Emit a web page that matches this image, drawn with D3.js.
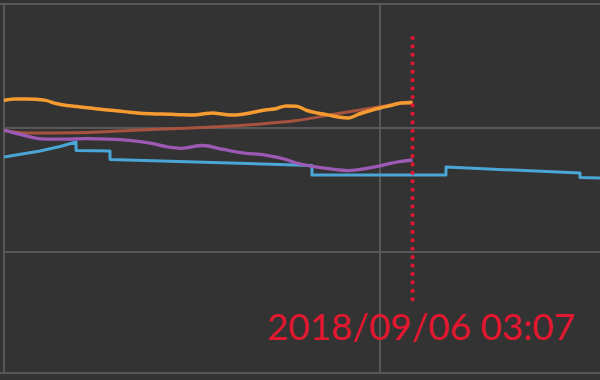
<!DOCTYPE html>
<html>
<head>
<meta charset="utf-8">
<script src="https://cdn.jsdelivr.net/npm/d3@7"></script>
<style>
  html, body { margin: 0; padding: 0; background: #333333; }
  svg { display: block; }
</style>
</head>
<body>
<svg id="chart" width="600" height="380"></svg>
<script>
// ---- data ----
const orangeTimes = [
  "2018-09-04 12:00","2018-09-04 13:00","2018-09-04 14:00","2018-09-04 15:00","2018-09-04 16:00",
  "2018-09-04 17:00","2018-09-04 18:00","2018-09-04 19:00","2018-09-04 20:00","2018-09-04 21:00",
  "2018-09-04 22:00","2018-09-04 23:00","2018-09-05 00:00","2018-09-05 01:00","2018-09-05 02:00",
  "2018-09-05 03:00","2018-09-05 04:00","2018-09-05 05:00","2018-09-05 06:00","2018-09-05 07:00",
  "2018-09-05 08:00","2018-09-05 09:00","2018-09-05 10:00","2018-09-05 11:00","2018-09-05 12:00",
  "2018-09-05 13:00","2018-09-05 14:00","2018-09-05 15:00","2018-09-05 16:00","2018-09-05 17:00",
  "2018-09-05 18:00","2018-09-05 19:00","2018-09-05 20:00","2018-09-05 21:00","2018-09-05 22:00",
  "2018-09-05 23:00","2018-09-06 00:00","2018-09-06 01:00","2018-09-06 02:00","2018-09-06 03:07"
];
const orangeValues = [
  222.2, 223.3, 223.4, 223.2, 222.3,
  219.7, 218.2, 217.3, 216.4, 215.3,
  214.5, 213.7, 212.7, 211.9, 211.5,
  211.3, 211.0, 210.6, 210.5, 211.3,
  212.1, 211.1, 210.5, 211.3, 212.9,
  214.5, 215.5, 217.8, 217.6, 214.1,
  212.1, 210.6, 208.9, 208.1, 211.3,
  213.9, 216.1, 218.1, 220.2, 220.3
];

const brownTimes = [
  "2018-09-04 12:00","2018-09-04 14:00","2018-09-04 17:00","2018-09-04 20:00","2018-09-05 00:00",
  "2018-09-05 04:00","2018-09-05 08:00","2018-09-05 12:00","2018-09-05 16:00","2018-09-05 20:00",
  "2018-09-06 00:00","2018-09-06 03:07"
];
const brownValues = [
  198.0, 196.0, 196.0, 196.4, 198.0,
  199.4, 200.8, 202.8, 206.0, 211.7,
  217.2, 221.4
];

const purpleTimes = [
  "2018-09-04 12:00","2018-09-04 13:00","2018-09-04 14:00","2018-09-04 15:00","2018-09-04 16:00",
  "2018-09-04 18:00","2018-09-04 20:00","2018-09-04 22:00","2018-09-05 00:00","2018-09-05 02:00",
  "2018-09-05 04:00","2018-09-05 05:00","2018-09-05 07:00","2018-09-05 09:00","2018-09-05 11:00",
  "2018-09-05 13:00","2018-09-05 15:00","2018-09-05 16:00","2018-09-05 18:00","2018-09-05 20:00",
  "2018-09-05 21:00","2018-09-05 22:00","2018-09-06 00:00","2018-09-06 01:00","2018-09-06 02:00",
  "2018-09-06 03:07"
];
const purpleValues = [
  198.4, 196.0, 193.9, 191.9, 191.1,
  191.1, 191.5, 191.1, 190.1, 187.9,
  184.3, 183.6, 185.9, 182.7, 179.8,
  178.2, 174.6, 171.8, 168.5, 166.3,
  165.7, 166.5, 169.4, 171.4, 173.0,
  174.2
];

const blueTimes = [
  "2018-09-04 12:00","2018-09-04 15:27","2018-09-04 17:22","2018-09-04 18:54","2018-09-04 18:54",
  "2018-09-04 22:09","2018-09-04 22:09","2018-09-05 17:29","2018-09-05 17:29","2018-09-06 06:19",
  "2018-09-06 06:19","2018-09-06 19:09","2018-09-06 19:09","2018-09-06 22:59"
];
const blueValues = [
  176.6, 181.5, 185.1, 188.7, 181.9,
  181.5, 174.6, 169.8, 162.1, 162.1,
  168.5, 163.7, 160.1, 159.4
];

const gridTimes = ["2018-09-04 12:00", "2018-09-06 00:00"];
const gridValues = [100, 200];
const markerTime = "2018-09-06 03:07";
const markerLabel = "2018/09/06 03:07";

// ---- drawing ----
const W = 600, H = 380;
const parse = d3.timeParse("%Y-%m-%d %H:%M");
const svg = d3.select("#chart");

svg.append("rect").attr("width", W).attr("height", H).attr("fill", "#333333");

const x = d3.scaleTime()
  .domain([parse("2018-09-04 12:00"), parse("2018-09-06 00:00")])
  .range([4, 380]);
const y = d3.scaleLinear().domain([0, 300]).range([376, 4]);

const frameBottom = 373;
const gridColor = "#585858";

// frame
svg.append("line").attr("x1", 0).attr("x2", W).attr("y1", y(300)).attr("y2", y(300))
  .attr("stroke", gridColor).attr("stroke-width", 2);
svg.append("line").attr("x1", 0).attr("x2", W).attr("y1", frameBottom).attr("y2", frameBottom)
  .attr("stroke", gridColor).attr("stroke-width", 2);

// grid
svg.append("g").selectAll("line").data(gridValues).join("line")
  .attr("x1", x(parse(gridTimes[0]))).attr("x2", W)
  .attr("y1", d => y(d)).attr("y2", d => y(d))
  .attr("stroke", gridColor).attr("stroke-width", 2);
svg.append("g").selectAll("line").data(gridTimes).join("line")
  .attr("x1", d => x(parse(d))).attr("x2", d => x(parse(d)))
  .attr("y1", y(300)).attr("y2", frameBottom)
  .attr("stroke", gridColor).attr("stroke-width", 2);

function series(times, values) {
  return times.map((t, i) => ({ t: parse(t), v: values[i] }));
}

const smooth = d3.line().x(d => x(d.t)).y(d => y(d.v)).curve(d3.curveMonotoneX);
const straight = d3.line().x(d => x(d.t)).y(d => y(d.v));

const lines = [
  { data: series(brownTimes, brownValues), color: "#a85240", gen: smooth, w: 3 },
  { data: series(blueTimes, blueValues), color: "#4aa6d6", gen: straight, w: 3 },
  { data: series(purpleTimes, purpleValues), color: "#9c5ab4", gen: smooth, w: 3.3 },
  { data: series(orangeTimes, orangeValues), color: "#f59b30", gen: smooth, w: 3.5 }
];

svg.append("g").selectAll("path").data(lines).join("path")
  .attr("d", d => d.gen(d.data))
  .attr("fill", "none")
  .attr("stroke", d => d.color)
  .attr("stroke-width", d => d.w)
  .attr("stroke-linejoin", "round");

// marker
const mx = x(parse(markerTime));
svg.append("line")
  .attr("x1", mx).attr("x2", mx)
  .attr("y1", 38).attr("y2", 300)
  .attr("stroke", "#e3172f")
  .attr("stroke-width", 4.2)
  .attr("stroke-linecap", "round")
  .attr("stroke-dasharray", "0 8.43");

svg.append("text")
  .attr("x", 267).attr("y", 339.5)
  .attr("fill", "#e3172f")
  .attr("font-family", "Lato, 'DejaVu Sans', sans-serif")
  .attr("font-size", 37)
  .attr("textLength", 308)
  .attr("lengthAdjust", "spacingAndGlyphs")
  .text(markerLabel);
</script>
</body>
</html>
